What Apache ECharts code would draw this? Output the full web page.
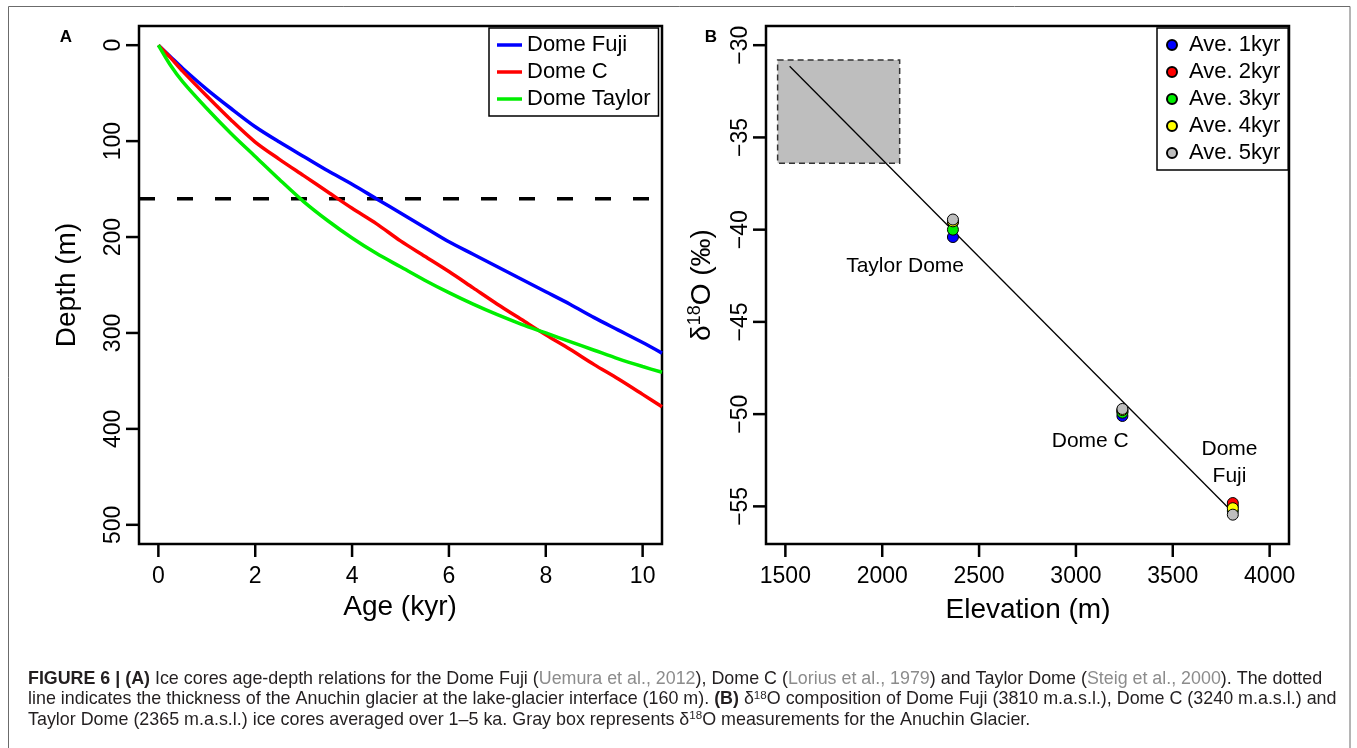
<!DOCTYPE html>
<html lang="en">
<head>
<meta charset="UTF-8">
<title>Figure 6 - ice core age-depth and d18O vs elevation</title>
<script src="https://cdn.jsdelivr.net/npm/echarts@6.0.0/dist/echarts.min.js"></script>
<style>
    html, body { margin: 0; padding: 0; background: #fff; }
    #chart { width: 1357px; height: 748px; }
</style>
</head>
<body>
<div id="chart"></div>
<script>
// ---- panel A: age-depth curves ----
const ages = [0, 0.25, 0.5, 1, 1.5, 2, 2.5, 3, 3.5, 4, 4.5, 5, 5.5, 6, 6.5, 7, 7.5, 8, 8.5, 9, 9.5, 10, 10.4];
const depthDomeFuji   = [0, 12, 24, 46, 66, 85, 101, 116, 131, 145, 160, 175, 190, 205, 218, 231, 244, 257, 270, 284, 297, 310, 321];
const depthDomeC      = [0, 13, 27, 53, 78, 101, 119, 136, 153, 170, 186, 204, 220, 236, 253, 270, 286, 302, 317, 333, 348, 364, 377];
const depthDomeTaylor = [0, 21, 38, 66, 92, 116, 140, 163, 183, 201, 217, 231, 245, 258, 270, 281, 291, 300, 309, 318, 327, 335, 341];
const coreNames = ['Dome Fuji', 'Dome C', 'Dome Taylor'];
const glacierDepth = 160;
const ageTicks = [0, 2, 4, 6, 8, 10];
const depthTicks = [0, 100, 200, 300, 400, 500];
const ageRange = [-0.4, 10.4];
const depthRange = [-20, 520];

// ---- panel B: d18O against elevation ----
const siteNames = ['Taylor Dome', 'Dome C', 'Dome\nFuji'];
const siteElevation = [2365, 3240, 3810];
const aveNames = ['Ave. 1kyr', 'Ave. 2kyr', 'Ave. 3kyr', 'Ave. 4kyr', 'Ave. 5kyr'];
const ave1kyr = [-40.4, -50.1, -55.0];
const ave2kyr = [-39.6, -49.85, -54.82];
const ave3kyr = [-40.0, -49.92, -55.25];
const ave4kyr = [-39.55, -49.78, -55.1];
const ave5kyr = [-39.45, -49.72, -55.45];
const fitElevation = [1522, 3785];
const fitD18O = [-31.14, -55.06];
const anuchinElevation = [1460, 2090];
const anuchinD18O = [-36.4, -30.8];
const siteLabelElevation = [2118, 3074, 3793];
const siteLabelD18O = [-41.98, -51.47, -52.65];
const elevTicks = [1500, 2000, 2500, 3000, 3500, 4000];
const d18OTicks = [-55, -50, -45, -40, -35, -30];
const elevRange = [1400, 4100];
const d18ORange = [-57.04, -28.96];

const font = '"Liberation Sans", Arial, Helvetica, sans-serif';
const capFont = '"Liberation Sans Narrow", "Liberation Sans", Arial, sans-serif';

const lineColors = ['#0000ff', '#ff0000', '#00ee00'];
const aveColors = ['#0000ff', '#ff0000', '#00ee00', '#ffff00', '#bebebe'];
const TICK = 13;
const gridA = { left: 139, top: 26, width: 523, height: 518 };
const gridB = { left: 766, top: 26, width: 523, height: 518 };

const chart = echarts.init(document.getElementById('chart'));

const zip = (xs, ys) => xs.map((x, i) => [x, ys[i]]);
const plainNum = v => String(v).replace('-', '\u2212');

function axisCommon(ticks, extra, rotate) {
    return Object.assign({
        type: 'value',
        axisLine: { show: false, onZero: false },
        splitLine: { show: false },
        axisTick: { show: false },
        axisLabel: {
            customValues: ticks, color: '#000', fontSize: 23, fontFamily: font,
            formatter: plainNum, rotate: rotate || 0, margin: rotate ? 14 : 21
        }
    }, extra);
}

// outward R-style tick marks along the bottom and left edge of a grid
function edgeTicks(g, xTicks, xRange, yTicks, yRange, yInverse) {
    const out = [];
    const base = g.top + g.height;
    xTicks.forEach(v => {
        const x = g.left + (v - xRange[0]) / (xRange[1] - xRange[0]) * g.width;
        out.push({ type: 'line', silent: true, shape: { x1: x, y1: base, x2: x, y2: base + TICK },
                   style: { stroke: '#000', lineWidth: 2.5 } });
    });
    yTicks.forEach(v => {
        const f = (v - yRange[0]) / (yRange[1] - yRange[0]);
        const y = yInverse ? g.top + f * g.height : base - f * g.height;
        out.push({ type: 'line', silent: true, shape: { x1: g.left, y1: y, x2: g.left - TICK, y2: y },
                   style: { stroke: '#000', lineWidth: 2.5 } });
    });
    return out;
}

const aveSeries = [ave1kyr, ave2kyr, ave3kyr, ave4kyr, ave5kyr].map((vals, i) => ({
    name: aveNames[i],
    type: 'scatter',
    xAxisIndex: 1, yAxisIndex: 1,
    symbol: 'circle',
    symbolSize: 11,
    itemStyle: { color: aveColors[i], borderColor: '#000', borderWidth: 1, opacity: 1 },
    data: zip(siteElevation, vals),
    z: 5 + i
}));

const coreSeries = [depthDomeFuji, depthDomeC, depthDomeTaylor].map((vals, i) => ({
    name: coreNames[i],
    type: 'line',
    xAxisIndex: 0, yAxisIndex: 0,
    showSymbol: false,
    smooth: 0.3,
    lineStyle: { color: lineColors[i], width: 3.5 },
    itemStyle: { color: lineColors[i] },
    data: zip(ages, vals),
    z: 5
}));

// caption lines (rich markup: b = bold, r = reference, s = superscript)
const captionLines = [
    '{b|FIGURE 6 | (A)} Ice cores age-depth relations for the Dome Fuji ({r|Uemura et al., 2012}), Dome C ({r|Lorius et al., 1979}) and Taylor Dome ({r|Steig et al., 2000}). The dotted',
    'line indicates the thickness of the Anuchin glacier at the lake-glacier interface (160 m). {b|(B)} \u03b4{s|18}O composition of Dome Fuji (3810 m.a.s.l.), Dome C (3240 m.a.s.l.) and',
    'Taylor Dome (2365 m.a.s.l.) ice cores averaged over 1\u20135 ka. Gray box represents \u03b4{s|18}O measurements for the Anuchin Glacier.'
];

// fit caption font so the widest line spans the caption width
const ctx = document.createElement('canvas').getContext('2d');
ctx.font = '100px ' + capFont;
const widest = Math.max(...captionLines.map(t => ctx.measureText(t.replace(/\{[a-z]+\|([^}]*)\}/g, '$1')).width));
const capSize = Math.min(18, 100 * 1312 / widest);

const captionGraphics = captionLines.map((txt, i) => ({
    type: 'text',
    left: 28,
    top: 669 + i * 20.5,
    style: {
        text: txt,
        font: capSize.toFixed(1) + 'px ' + capFont,
        fill: '#231f20',
        lineHeight: 20,
        rich: {
            b: { fontWeight: 'bold', fontSize: capSize, fontFamily: capFont, fill: '#231f20', lineHeight: 20 },
            r: { fill: '#8c8c8c', fontSize: capSize, fontFamily: capFont, lineHeight: 20 },
            s: { fontSize: capSize * 0.65, fontFamily: capFont, fill: '#231f20', verticalAlign: 'top', lineHeight: capSize * 0.65 }
        }
    }
}));

const option = {
    animation: false,
    textStyle: { fontFamily: font },
    grid: [
        Object.assign({ show: true, borderColor: '#000', borderWidth: 2.5 }, gridA),
        Object.assign({ show: true, borderColor: '#000', borderWidth: 2.5 }, gridB)
    ],
    xAxis: [
        axisCommon(ageTicks, { gridIndex: 0, min: ageRange[0], max: ageRange[1] }),
        axisCommon(elevTicks, { gridIndex: 1, min: elevRange[0], max: elevRange[1] })
    ],
    yAxis: [
        axisCommon(depthTicks, { gridIndex: 0, min: depthRange[0], max: depthRange[1], inverse: true }, 90),
        axisCommon(d18OTicks, { gridIndex: 1, min: d18ORange[0], max: d18ORange[1] }, 90)
    ],
    legend: [
        {
            data: coreNames,
            orient: 'vertical', left: 489, top: 28,
            icon: 'rect', itemWidth: 25, itemHeight: 3.5, itemGap: 5,
            padding: [6, 8, 6, 8],
            borderColor: '#000', borderWidth: 1.5,
            selectedMode: false,
            textStyle: { fontSize: 22, color: '#000', fontFamily: font }
        },
        {
            data: aveNames,
            orient: 'vertical', left: 1157, top: 28,
            icon: 'circle', itemWidth: 10, itemHeight: 10, itemGap: 5,
            padding: [6, 8, 6, 9],
            borderColor: '#000', borderWidth: 1.5,
            selectedMode: false,
            textStyle: { fontSize: 22, color: '#000', fontFamily: font, padding: [0, 0, 0, 7] }
        }
    ],
    series: [
        ...coreSeries,
        {
            name: 'glacier thickness',
            type: 'line',
            xAxisIndex: 0, yAxisIndex: 0,
            showSymbol: false,
            silent: true,
            lineStyle: { color: '#000', width: 3.5, type: [16, 22] },
            data: [[ageRange[0], glacierDepth], [ageRange[1], glacierDepth]],
            z: 4
        },
        {
            name: 'fit',
            type: 'line',
            xAxisIndex: 1, yAxisIndex: 1,
            showSymbol: false,
            silent: true,
            lineStyle: { color: '#000', width: 1.3 },
            data: zip(fitElevation, fitD18O),
            markArea: {
                silent: true,
                itemStyle: { color: '#bebebe', borderColor: '#333', borderWidth: 1.5, borderType: [6, 4] },
                data: [[
                    { coord: [anuchinElevation[0], anuchinD18O[1]] },
                    { coord: [anuchinElevation[1], anuchinD18O[0]] }
                ]]
            },
            z: 4
        },
        ...aveSeries,
        {
            name: 'site labels',
            type: 'scatter',
            xAxisIndex: 1, yAxisIndex: 1,
            symbolSize: 0,
            silent: true,
            itemStyle: { opacity: 1 },
            label: {
                show: true, position: 'inside',
                formatter: p => p.name,
                color: '#000', fontSize: 21, fontFamily: font, lineHeight: 27, align: 'center'
            },
            data: siteNames.map((n, i) => ({ name: n, value: [siteLabelElevation[i], siteLabelD18O[i]] }))
        }
    ],
    graphic: [
        { type: 'polyline', silent: true,
          shape: { points: [[8.5, 760], [8.5, 6.5], [1350, 6.5], [1350, 760]] },
          style: { stroke: '#6b6b6b', lineWidth: 1 } },
        ...edgeTicks(gridA, ageTicks, ageRange, depthTicks, depthRange, true),
        ...edgeTicks(gridB, elevTicks, elevRange, d18OTicks, d18ORange, false),
        { type: 'text', x: 66, y: 37, style: { text: 'A', font: 'bold 17px ' + font, fill: '#000', align: 'center', verticalAlign: 'middle' } },
        { type: 'text', x: 711, y: 37, style: { text: 'B', font: 'bold 17px ' + font, fill: '#000', align: 'center', verticalAlign: 'middle' } },
        { type: 'text', x: 400, y: 607, style: { text: 'Age (kyr)', font: '28px ' + font, fill: '#000', align: 'center', verticalAlign: 'middle' } },
        { type: 'text', x: 1028, y: 610, style: { text: 'Elevation (m)', font: '28px ' + font, fill: '#000', align: 'center', verticalAlign: 'middle' } },
        { type: 'text', x: 67, y: 285, rotation: Math.PI / 2, style: { text: 'Depth (m)', font: '28px ' + font, fill: '#000', align: 'center', verticalAlign: 'middle' } },
        { type: 'text', x: 702, y: 285, rotation: Math.PI / 2,
          style: { text: '\u03b4{s|18}O (\u2030)', font: '28px ' + font, fill: '#000', align: 'center', verticalAlign: 'middle', lineHeight: 32,
                   rich: { s: { fontSize: 18, fontFamily: font, fill: '#000', verticalAlign: 'top', lineHeight: 18 } } } },
        ...captionGraphics
    ]
};

chart.setOption(option);
</script>
</body>
</html>
